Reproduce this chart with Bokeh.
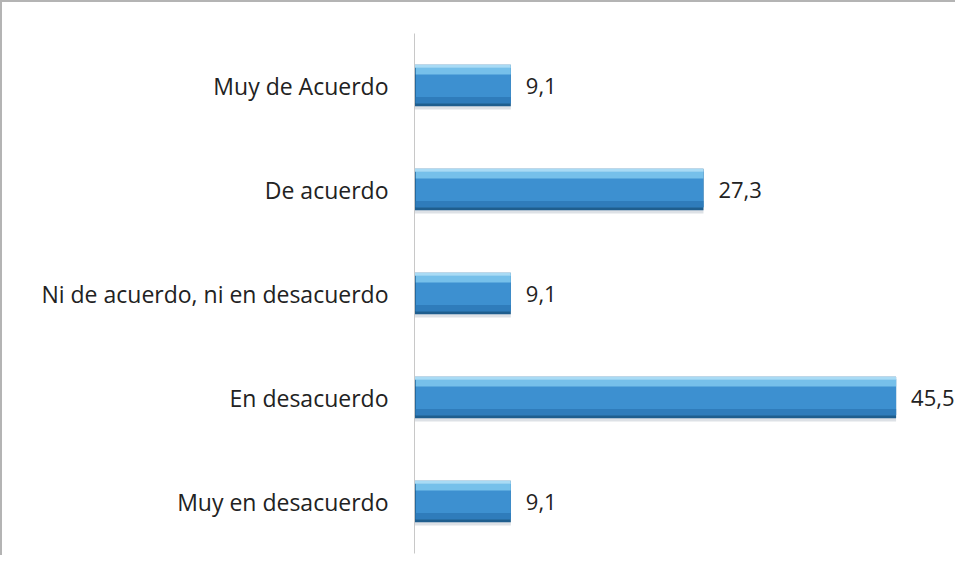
from bokeh.plotting import figure
from bokeh.models import ColumnDataSource, FactorRange, Range1d
from bokeh.transform import dodge
from bokeh.core.properties import value
from bokeh.embed import file_html
from bokeh.resources import INLINE

categories = ["Muy de Acuerdo", "De acuerdo", "Ni de acuerdo, ni en desacuerdo",
              "En desacuerdo", "Muy en desacuerdo"]
values = [9.1, 27.3, 9.1, 45.5, 9.1]
value_labels = [f"{v:.1f}".replace(".", ",") for v in values]

factors = list(reversed(categories))
src = ColumnDataSource(dict(cat=categories, val=values, lab=value_labels))

FONT = "Open Sans"

p = figure(width=955, height=555, y_range=FactorRange(*factors, range_padding=0),
           x_range=Range1d(0, 51.3), output_backend="svg", toolbar_location=None,
           min_border_left=412, min_border_top=31, min_border_bottom=4, min_border_right=0)
p.styles = {"border-left": "2px solid #b4b4b4", "border-top": "2px solid #b4b4b4",
            "box-sizing": "border-box"}
p.outline_line_color = None
p.grid.visible = False
p.xaxis.visible = False
p.background_fill_color = "white"
p.border_fill_color = "white"

ya = p.yaxis[0]
ya.axis_line_color = "#c8c8c8"
ya.axis_line_width = 1
ya.major_tick_line_color = None
ya.minor_tick_line_color = None
ya.major_label_standoff = 20
ya.major_label_text_font = FONT
ya.major_label_text_font_size = "23px"
ya.major_label_text_color = "#222222"

h = 0.40
# shadow
p.hbar(y=dodge("cat", -0.03, range=p.y_range), right="val", left=0, height=h,
       fill_color="#dde1e6", line_color=None, source=src)
# dark edge
p.hbar(y="cat", right="val", left=0, height=h, fill_color="#1f5e8e",
       line_color=None, source=src)
# body
p.hbar(y=dodge("cat", 0.005, range=p.y_range), right="val", left=0.12, height=h - 0.05,
       fill_color="#3d90d0", line_color=None, source=src)
# lower darker band
p.hbar(y=dodge("cat", -h / 2 + 0.06, range=p.y_range), right="val", left=0.12, height=0.06,
       fill_color="#2f7cbb", line_color=None, source=src)
# top highlight band
p.hbar(y=dodge("cat", h / 2 - 0.06, range=p.y_range), right="val", left=0.12, height=0.07,
       fill_color="#76c0ea", line_color=None, source=src)
p.hbar(y=dodge("cat", h / 2 - 0.015, range=p.y_range), right="val", left=0, height=0.03,
       fill_color="#a9dbf5", line_color=None, source=src)

p.text(x="val", y="cat", text="lab", x_offset=15, text_baseline="middle",
       text_align="left", text_font=value(FONT), text_font_size="22px",
       text_color="#222222", source=src)

open("out.html", "w").write(file_html(p, INLINE))
